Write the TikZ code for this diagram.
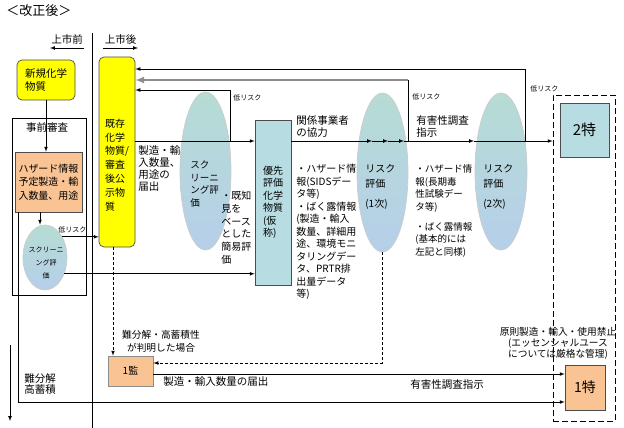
\documentclass[tikz,border=0pt]{standalone}
\usepackage{fontspec}
\setmainfont{Noto Sans CJK JP}
\usetikzlibrary{shapes.geometric}
\definecolor{kiiro}{HTML}{FFFF00}
\definecolor{daidai}{HTML}{FAC394}
\definecolor{aomidori}{HTML}{B7DDE3}
\definecolor{daentop}{HTML}{B6DCD4}
\definecolor{daenbot}{HTML}{B6CFEA}

\begin{document}
\begin{tikzpicture}[x=1pt, y=-1pt, line width=0.7pt,
    txt/.style={align=left, inner sep=0pt, font=\fontsize{10}{12.5}\selectfont},
    big/.style={align=left, inner sep=0pt, font=\fontsize{10.5}{12}\selectfont},
    small/.style={inner sep=0pt, font=\fontsize{7}{8}\selectfont},
    daen/.style={ellipse, draw=gray!40, top color=daentop, bottom color=daenbot, inner sep=0pt},
    kiirobox/.style={rectangle, rounded corners=5pt, draw=black!70, fill=kiiro},
    dashline/.style={dash pattern=on 3pt off 2pt}]
    \useasboundingbox (0,0) rectangle (624,428);

    % Titel und Trennlinie
    \node (title) [anchor=west, inner sep=0pt, font=\fontsize{13}{15}\selectfont] at (6,11) {＜改正後＞};
    \coordinate (divtop) at (92,33);
    \coordinate (divbot) at (92,428);
    \draw (divtop) -- (divbot);
    \coordinate (preR) at (84,48);
    \coordinate (preL) at (50,48);
    \draw[-latex] (preR) -- (preL) node[midway, above=3pt, big] {上市前};
    \coordinate (postL) at (103,48);
    \coordinate (postR) at (138,48);
    \draw[-latex] (postL) -- (postR) node[midway, above=3pt, big] {上市後};

    % Neustoffe
    \node (newchem) [kiirobox, minimum width=58pt, minimum height=40pt, big, font=\fontsize{10.5}{13}\selectfont] at (46,80) {新規化学\\物質};
    \node (prebox) [rectangle, draw, minimum width=74pt, minimum height=177pt] at (49,206.5) {};
    \node (prelabel) [big] at (47,127) {事前審査};
    \node (hazard) [rectangle, draw=black!70, fill=daidai, minimum width=67pt, minimum height=60pt, txt, font=\fontsize{10}{13.5}\selectfont] at (48.5,182) {ハザード情報\\予定製造・輸\\入数量、用途};
    \node (screen0) [daen, minimum width=44pt, minimum height=65pt] at (45,257.5) {};
    \node (screen0txt) [align=center, inner sep=0pt, font=\fontsize{7}{13}\selectfont] at (46,263) {スクリーニ\\ング評\\価};
    \node (lr0) [small, anchor=west] at (58,230) {低リスク};

    % Altstoffe
    \node (exist) [kiirobox, minimum width=36pt, minimum height=190pt] at (117,152) {};
    \node (existtxt) [txt, font=\fontsize{10}{13.8}\selectfont] at (117,165) {既存\\化学\\物質/\\審査\\後公\\示物\\質};
    \node (todokede1) [big, anchor=north west] at (138,145) {製造・輸\\入数量、\\用途の\\届出};
    \node (screen1) [daen, minimum width=51pt, minimum height=158pt] at (205.5,171) {};
    \node (screen1txt) [txt, anchor=west, font=\fontsize{9.5}{12.5}\selectfont] at (190,184) {スク\\リーニ\\ング評\\価};
    \node (lr1lbl) [small, anchor=west] at (233,98) {低リスク};
    \node (kichi) [txt, anchor=north west, font=\fontsize{10}{12.7}\selectfont] at (221,191) {・既知\\見を\\ベース\\とした\\簡易評\\価};
    \node (prio) [rectangle, draw=black!70, fill=aomidori, minimum width=36pt, minimum height=165pt, txt] at (273,202.5) {優先\\評価\\化学\\物質\\(仮\\称)};
    \node (kankei) [big, anchor=south west] at (296,138) {関係事業者\\の協力};
    \node (info1) [txt, anchor=north west] at (296,164) {・ハザード情\\報(SIDSデー\\タ等)\\・ばく露情報\\(製造・輸入\\数量、詳細用\\途、環境モニ\\タリングデー\\タ、PRTR排\\出量データ\\等)};
    \node (risk1) [daen, minimum width=51pt, minimum height=159pt] at (382.5,172.5) {};
    \node (risk1txt) [txt, anchor=north west, font=\fontsize{10}{15}\selectfont] at (365,164) {リスク\\評価\\[5pt](1次)};
    \node (lr2lbl) [small, anchor=west] at (412,97) {低リスク};
    \node (shiji1) [big, anchor=south west] at (416,138) {有害性調査\\指示};
    \node (info2) [txt, anchor=north west, font=\fontsize{9.5}{12.7}\selectfont] at (415,164) {・ハザード情\\報(長期毒\\性試験デー\\タ等)\\[7pt]・ばく露情報\\(基本的には\\左記と同様)};
    \node (risk2) [daen, minimum width=52pt, minimum height=157pt] at (501,171.5) {};
    \node (risk2txt) [txt, anchor=north west, font=\fontsize{10}{15}\selectfont] at (483,164) {リスク\\評価\\[5pt](2次)};
    \node (lr3lbl) [small, anchor=west] at (530,89) {低リスク};

    % Spezifizierte Stoffe
    \node (tokubox) [rectangle, draw, dash pattern=on 6pt off 3pt, minimum width=62pt, minimum height=326pt] at (584,258) {};
    \node (toku2) [rectangle, draw=black!70, fill=aomidori, minimum width=49pt, minimum height=54pt, font=\fontsize{15}{18}\selectfont] at (584.5,130) {2特};
    \node (kinshi) [align=center, inner sep=0pt, font=\fontsize{9.7}{11}\selectfont] at (558,343) {原則製造・輸入・使用禁止\\(エッセンシャルユース\\については厳格な管理)};
    \node (toku1) [rectangle, draw=black!70, fill=daidai, minimum width=40pt, minimum height=45pt, font=\fontsize{14}{17}\selectfont] at (585,387.5) {1特};
    \node (kan1) [rectangle, draw=black!45, fill=daidai, minimum width=45pt, minimum height=30pt, font=\fontsize{10}{12}\selectfont] at (130.5,371) {1監};
    \node (hanmei) [align=center, inner sep=0pt, font=\fontsize{9.7}{13}\selectfont] at (161,341) {難分解・高蓄積性\\が判明した場合};
    \node (todokede2) [big, anchor=north west] at (163,376) {製造・輸入数量の届出};
    \node (shiji2) [big] at (447,385) {有害性調査指示};
    \node (nanbun) [big, anchor=west, font=\fontsize{10.5}{11.5}\selectfont] at (24,384) {難分解\\高蓄積};

    % Verbindungen links
    \draw[-latex] (newchem.south) -- (newchem.south |- hazard.north);
    \draw[-latex] ([xshift=-8.5pt]hazard.south) -- ([xshift=-5pt]screen0.north);
    \draw[-latex] (screen0.50) -- (screen0.50 -| exist.west);
    \draw[-latex] (screen0.-40) -- (screen0.-40 -| prio.west);
    \coordinate (b1) at (18,402);
    \draw[-latex] (hazard.south -| b1) -- (b1) -- (b1 -| toku1.west);
    \coordinate (la1) at (10,345);
    \coordinate (la2) at (10,421);
    \draw[-latex] (la1) -- (la2);

    % Hauptlinie
    \coordinate (m1) at (230,141);
    \coordinate (a1) at (372,141);
    \coordinate (a2) at (388,141);
    \coordinate (a3) at (404,141);
    \coordinate (j1) at (408,141);
    \coordinate (a4) at (474,141);
    \coordinate (j2) at (525,141);
    \draw[-latex] (exist.east |- m1) -- (m1 -| prio.west);
    \draw[-latex] (prio.east |- m1) -- (a1);
    \draw[-latex] (a1) -- (a2);
    \draw[-latex] (a2) -- (a3);
    \draw (a3) -- (j1);
    \draw[-latex] (j1) -- (a4);
    \draw (a4) -- (j2);
    \draw[-latex] (j2) -- (j2 -| tokubox.west);

    % Rueckfuehrung niedriges Risiko
    \coordinate (lr1) at (230,90);
    \draw[-latex] (m1) -- (lr1) -- (lr1 -| exist.east);
    \coordinate (lr2) at (408,80);
    \draw (j1) -- (lr2);
    \draw[-latex, black!45, line width=2pt] (lr2) -- (lr2 -| exist.east);
    \coordinate (lr3) at (525,69);
    \draw[-latex] (j2) -- (lr3) -- (lr3 -| exist.east);

    % Unten
    \draw[-latex, dashline] ([xshift=-4pt]exist.south) -- ([xshift=-4pt]exist.south |- kan1.north);
    \coordinate (d1) at (382.5,363);
    \draw[-latex, dashline] (risk1.south) -- (d1) -- (d1 -| kan1.east);
    \draw[-latex] ([yshift=-3pt]kan1.east) -- ([yshift=-3pt]kan1.east -| toku1.west);
\end{tikzpicture}
\end{document}
